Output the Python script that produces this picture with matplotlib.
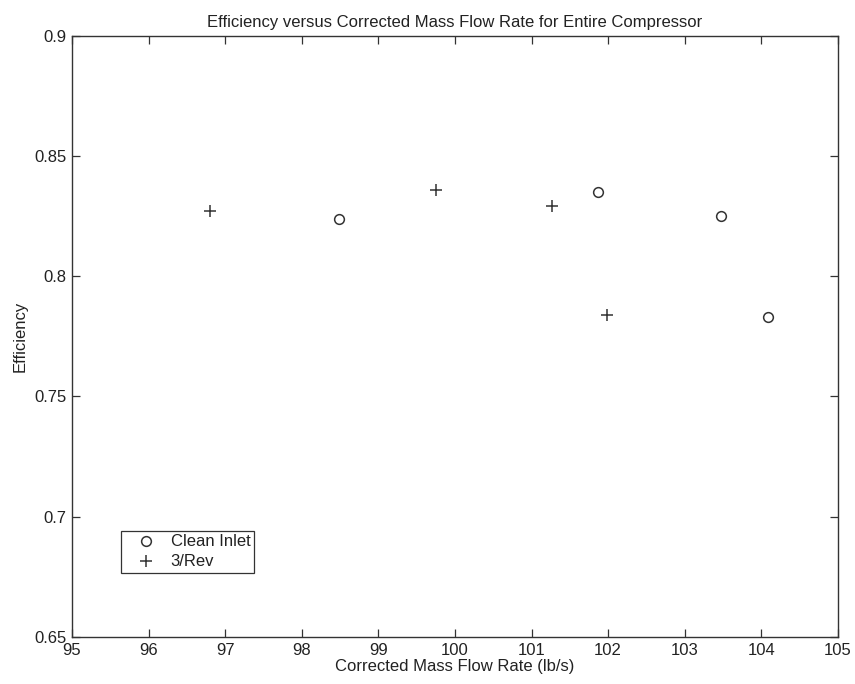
import matplotlib
matplotlib.use('Agg')
import matplotlib.pyplot as plt

plt.rcParams['font.family'] = ['Liberation Sans', 'DejaVu Sans']

# Data
clean_flow = [98.49, 101.87, 103.48, 104.09]
clean_eff = [0.824, 0.835, 0.825, 0.783]
rev_flow = [96.80, 99.75, 101.27, 101.98]
rev_eff = [0.827, 0.836, 0.829, 0.784]

x_ticks = [95, 96, 97, 98, 99, 100, 101, 102, 103, 104, 105]
y_ticks = [0.65, 0.7, 0.75, 0.8, 0.85, 0.9]
y_labels = ['0.65', '0.7', '0.75', '0.8', '0.85', '0.9']

fig = plt.figure(figsize=(8.55, 6.84), dpi=100)
ax = fig.add_axes([0.0842, 0.0687, 0.8958, 0.8791])

ink = '#333333'
fs = 12
ax.plot(clean_flow, clean_eff, linestyle='none', marker='o', markersize=7,
        markerfacecolor='none', markeredgecolor=ink, markeredgewidth=1.1,
        label='Clean Inlet')
ax.plot(rev_flow, rev_eff, linestyle='none', marker='+', markersize=8,
        color=ink, markeredgewidth=1.1, label='3/Rev')

ax.set_xlim(95, 105)
ax.set_ylim(0.65, 0.9)
ax.set_xticks(x_ticks)
ax.set_yticks(y_ticks)
ax.set_yticklabels(y_labels)
ax.tick_params(direction='in', length=6, width=0.9, colors=ink,
               labelcolor='#222222', labelsize=fs,
               top=True, right=True, pad=4)
for s in ax.spines.values():
    s.set_color(ink)
    s.set_linewidth(1.0)

ax.set_title('Efficiency versus Corrected Mass Flow Rate for Entire Compressor',
             fontsize=fs, color='#222222', pad=6)
ax.set_xlabel('Corrected Mass Flow Rate (lb/s)', fontsize=fs,
              color='#222222', labelpad=1)
ax.set_ylabel('Efficiency', fontsize=fs, color='#222222', labelpad=5)

# legend box, square corners like the original
leg = ax.legend(loc='lower left', bbox_to_anchor=(0.0635, 0.107),
                fancybox=False, framealpha=1, edgecolor=ink,
                fontsize=fs, handlelength=2.6, handletextpad=0.2,
                borderpad=0.2, labelspacing=0.3, borderaxespad=0)
leg.get_frame().set_linewidth(0.9)
for t in leg.get_texts():
    t.set_color('#222222')

plt.savefig('out.png', dpi=100)
